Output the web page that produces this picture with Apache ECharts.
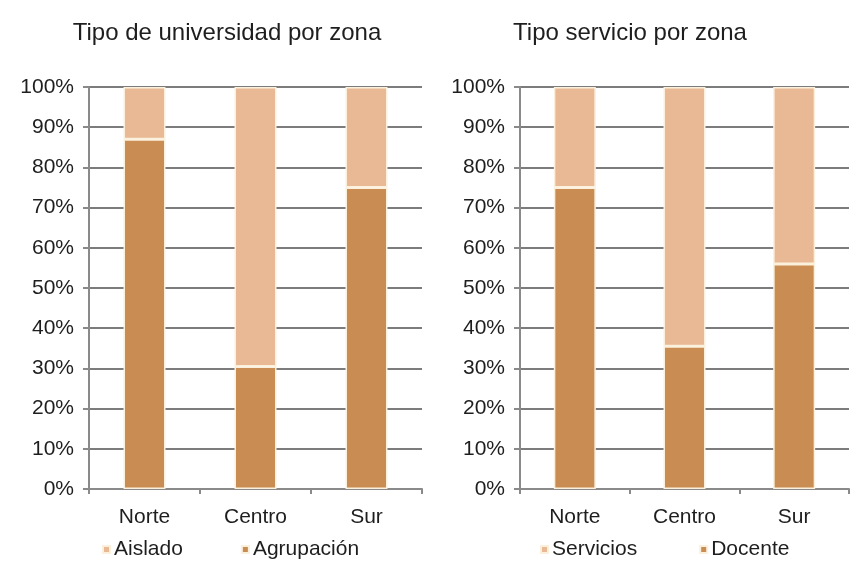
<!DOCTYPE html>
<html>
<head>
<meta charset="utf-8">
<script src="https://cdn.jsdelivr.net/npm/echarts@6/dist/echarts.min.js"></script>
<style>
  html, body { margin: 0; padding: 0; background: #fff; }
  #main { width: 850px; height: 573px; }
</style>
</head>
<body>
<div id="main"></div>
<script>
var zonas = ['Norte', 'Centro', 'Sur'];

// grafico izquierdo: tipo de universidad
var agrupacion = [87, 30.5, 75];
var aislado = [13, 69.5, 25];

// grafico derecho: tipo de servicio
var docente = [75, 35.5, 56];
var servicios = [25, 64.5, 44];

var colorOscuro = '#c98c53';
var colorClaro = '#e9b894';
var fuente = '"Liberation Sans", Arial, sans-serif';

function yAxis(idx) {
	return {
		gridIndex: idx,
		type: 'value',
		min: 0,
		max: 100,
		interval: 10,
		axisLine: { show: true, lineStyle: { color: '#8a8a8a', width: 2 } },
		axisTick: { show: true, length: 6, lineStyle: { color: '#8a8a8a', width: 2 } },
		axisLabel: { formatter: '{value}%', color: '#1e1e1e', fontSize: 21, fontFamily: fuente, margin: 15 },
		splitLine: { show: true, lineStyle: { color: '#7c7c7c', width: 2 } }
	};
}

function xAxis(idx) {
	return {
		gridIndex: idx,
		type: 'category',
		data: zonas,
		axisLine: { show: true, lineStyle: { color: '#8a8a8a', width: 2 } },
		axisTick: { show: true, length: 5, lineStyle: { color: '#8a8a8a', width: 2 } },
		axisLabel: { color: '#1e1e1e', fontSize: 21, fontFamily: fuente, margin: 18 }
	};
}

function barra(nombre, datos, color, idx) {
	return {
		name: nombre,
		type: 'bar',
		stack: 'total' + idx,
		xAxisIndex: idx,
		yAxisIndex: idx,
		barWidth: 42,
		data: datos,
		itemStyle: { color: color, borderColor: '#fbf0dc', borderWidth: 1.5 }
	};
}

var myChart = echarts.init(document.getElementById('main'));

var option = {
	backgroundColor: '#fff',
	animation: false,
	title: [{
		text: 'Tipo de universidad por zona',
		left: 222,
		textAlign: 'center',
		top: 16,
		textStyle: { fontSize: 24, fontWeight: 'normal', color: '#1e1e1e', fontFamily: fuente }
	}, {
		text: 'Tipo servicio por zona',
		left: 625,
		textAlign: 'center',
		top: 16,
		textStyle: { fontSize: 24, fontWeight: 'normal', color: '#1e1e1e', fontFamily: fuente }
	}],
	legend: [{
		data: ['Aislado', 'Agrupación'],
		left: 97,
		top: 534,
		itemWidth: 7,
		itemHeight: 7,
		itemGap: 58,
		icon: 'rect',
		textStyle: { fontSize: 21, color: '#1e1e1e', fontFamily: fuente, padding: [0, 0, 0, -1] }
	}, {
		data: ['Servicios', 'Docente'],
		left: 535,
		top: 534,
		itemWidth: 7,
		itemHeight: 7,
		itemGap: 62,
		icon: 'rect',
		textStyle: { fontSize: 21, color: '#1e1e1e', fontFamily: fuente, padding: [0, 0, 0, -1] }
	}],
	grid: [
		{ left: 89, right: 428, top: 87, bottom: 84 },
		{ left: 520, right: 1, top: 87, bottom: 84 }
	],
	xAxis: [xAxis(0), xAxis(1)],
	yAxis: [yAxis(0), yAxis(1)],
	series: [
		barra('Agrupación', agrupacion, colorOscuro, 0),
		barra('Aislado', aislado, colorClaro, 0),
		barra('Docente', docente, colorOscuro, 1),
		barra('Servicios', servicios, colorClaro, 1)
	]
};

myChart.setOption(option);
</script>
</body>
</html>
